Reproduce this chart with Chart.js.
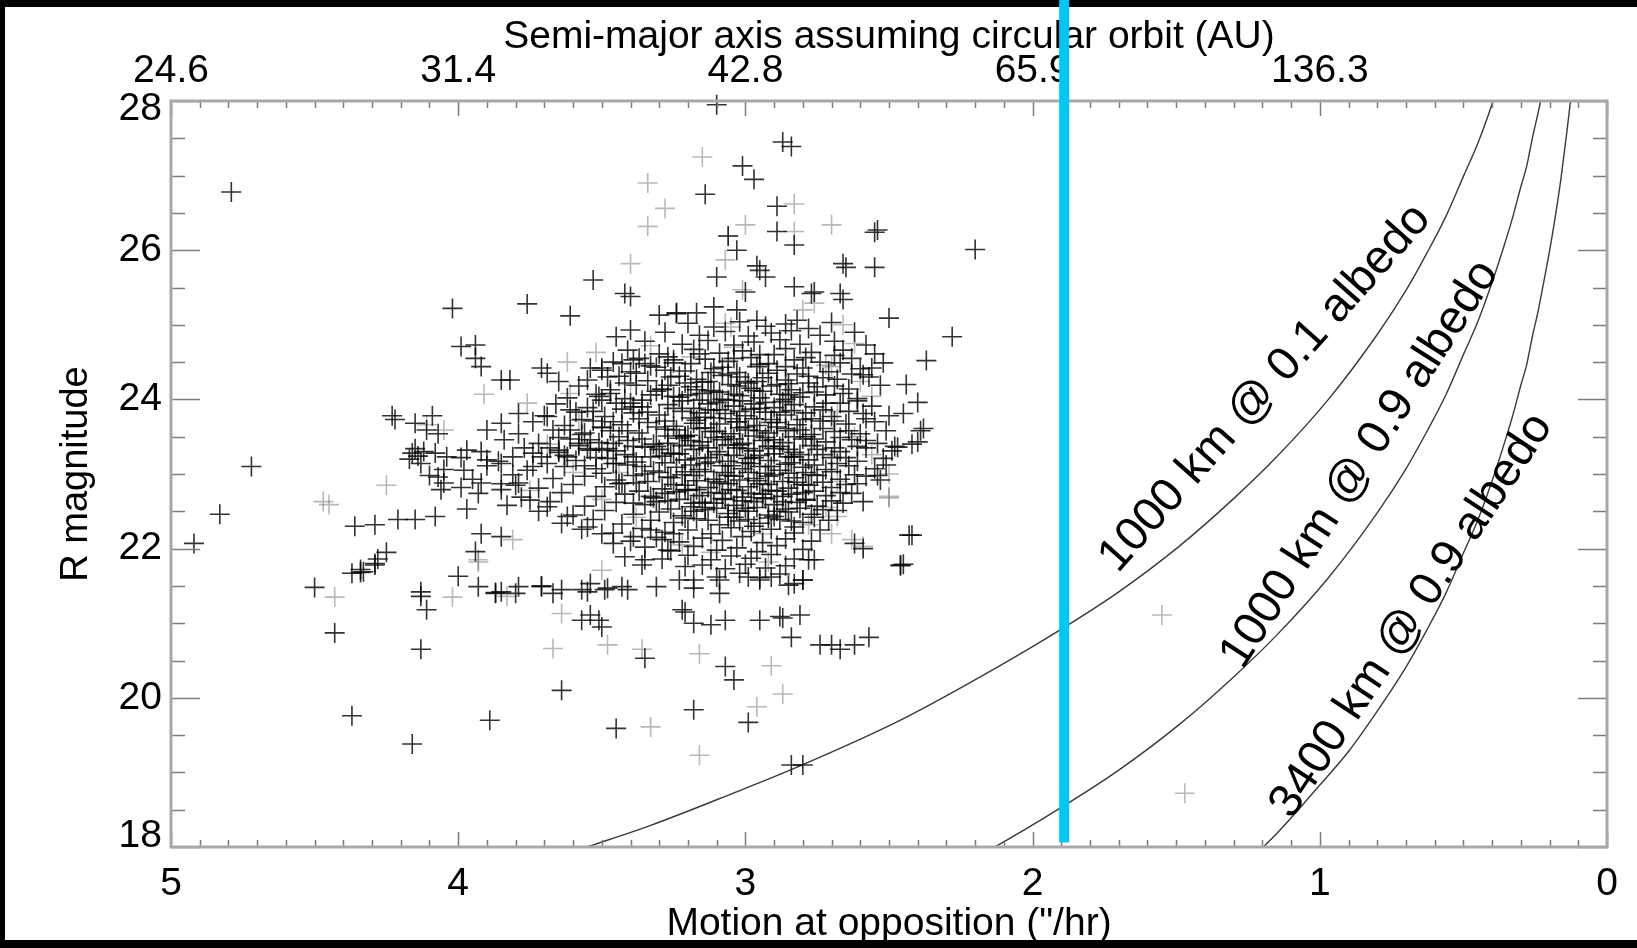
<!DOCTYPE html>
<html>
<head>
<meta charset="utf-8">
<title>R magnitude vs motion at opposition</title>
<script src="https://cdn.jsdelivr.net/npm/chart.js@4.4.1/dist/chart.umd.min.js"></script>
<style>
  html, body { margin: 0; padding: 0; background: #fff; }
  canvas { display: block; }
</style>
</head>
<body>
<canvas id="plot" width="1637" height="948"></canvas>
<script>
// top axis: semi-major axis (AU) written at the motion ticks
const motionTicks = [5, 4, 3, 2, 1, 0];
const semiMajorTicks = ['24.6', '31.4', '42.8', '65.9', '136.3', ''];

// objects: [motion ("/hr), R mag]
const sparseBlack = [
  [4.79,26.78],[3.10,27.95],[2.87,27.45],[2.84,27.39],[3.01,27.13],[2.97,26.95],[3.14,26.75],[2.89,26.59],
  [3.06,26.19],[2.89,26.25],[2.83,26.07],[2.54,26.27],[2.55,26.24],[2.20,26.01],[3.03,26.00],[2.96,25.79],
  [3.10,25.64],[2.93,25.64],[2.66,25.82],[2.65,25.77],[2.55,25.77],[2.83,25.51],[2.77,25.42],[2.67,25.42],
  [2.66,25.34],[2.50,25.09],[2.28,24.84],[3.11,25.24],[3.17,25.16],[3.24,25.16],[3.03,25.20],[2.96,25.06],
  [2.82,25.06],[2.95,25.73],[2.76,25.44],[3.00,25.44],
  [3.53,25.60],[3.42,25.42],[3.40,25.38],[4.02,25.22],[3.76,25.28],[3.61,25.12],[3.45,24.84],[3.40,24.93],
  [3.99,24.71],[3.94,24.73],[3.30,25.13],[3.24,25.15],
  [3.94,24.55],[3.92,24.44],[3.85,24.26],[3.82,24.26],[3.71,24.42],[3.69,24.35],[3.65,24.24],[3.54,24.42],
  [3.50,24.39],[3.48,24.30],[3.51,24.04],[3.43,24.48],[3.39,24.53],[3.36,23.99],[3.39,23.90],[4.22,23.73],
  [4.23,23.78],[4.15,23.68],[4.09,23.78],[4.07,23.54],
  [4.16,23.28],[4.13,23.14],[4.15,23.34],[4.17,23.20],[4.14,23.24],[4.12,23.30],[4.07,22.96],[4.06,22.79],
  [4.05,22.88],[4.11,23.59],[4.08,23.28],[4.04,23.23],
  [3.97,23.32],[3.90,23.19],[3.85,23.14],[3.81,23.23],[3.74,23.28],[3.98,23.05],[3.92,22.88],[3.85,22.79],
  [3.79,22.88],[3.80,22.85],[3.75,22.65],[3.69,22.56],[3.62,22.43],[3.55,22.29],[3.50,22.20],[3.74,23.10],
  [3.69,23.14],[3.65,23.32],[3.62,23.23],[3.58,23.41],[3.56,23.55],[3.50,23.63],[3.54,23.32],[3.69,23.77],
  [3.61,23.86],[3.79,23.81],[3.85,23.68],[3.90,23.59],
  [4.36,22.30],[4.29,22.32],[4.21,22.39],[4.15,22.39],[4.08,22.43],[3.97,22.53],[3.94,21.96],[3.92,22.20],
  [3.85,22.16],[4.25,21.95],[4.29,21.80],[4.33,21.69],[4.37,21.67],[4.34,21.72],[4.28,21.86],
  [4.92,22.07],[4.83,22.46],[4.72,23.10],[4.50,21.48],[4.43,20.87],[4.34,21.68],[4.29,21.78],[4.37,19.76],
  [4.16,19.38],[4.13,20.65],[4.13,21.36],[4.11,21.18],[4.00,21.63],[3.93,21.49],[3.87,21.41],[3.89,19.70],
  [3.64,20.10],[4.13,21.42],
  [3.45,19.59],[3.18,19.84],[3.07,20.42],[3.04,20.24],[2.99,19.67],[2.84,20.81],[2.74,20.71],[2.70,20.71],
  [2.67,20.65],[2.57,20.81],[2.95,21.04],[2.87,21.07],[3.07,21.04],[3.12,20.98],[3.18,21.00],[3.22,21.18],
  [3.21,21.15],[3.54,21.11],[3.51,21.04],[3.50,20.95],[3.57,21.04],[3.67,21.40],[3.71,21.50],[3.80,21.40],
  [3.87,21.40],[3.55,21.42],[3.49,21.45],[3.41,21.45],[3.31,21.49],[3.23,21.58],[3.18,21.47],[3.36,21.78],
  [3.09,21.58],[3.09,21.40],[2.99,21.62],[2.95,21.58],[2.91,21.62],[2.85,21.51],[2.80,21.58],[2.46,21.78],
  [2.84,19.10],[2.80,19.10],[3.35,20.53],
  [2.37,24.52],[2.39,23.58],[2.42,23.40],[2.47,23.36],[2.43,22.18],[2.46,21.77],[2.62,20.71],[2.81,21.11],
  [2.88,21.09],[2.56,24.42],[2.59,24.33],[2.45,23.81],[2.38,23.61],[2.40,23.43],[2.48,23.37],[2.53,22.92],
  [2.59,22.63],[2.42,22.18],[2.45,21.79],[2.78,21.85],[2.76,21.85],[2.83,21.53],[2.80,21.58],[2.44,24.20],
  [2.40,23.96],[2.51,23.12],[2.54,22.98],[2.59,22.00],[2.62,22.07],
  [3.43,22.88],[3.39,22.61],[3.33,22.70],[3.27,22.96],[3.21,22.79],[3.18,22.61],[3.39,22.16],[3.33,22.25],
  [3.29,22.12],[3.25,22.20],[3.27,21.98],[3.46,22.07],[3.42,21.89],[3.35,21.85],[3.21,21.76],[3.18,21.58],
  [3.54,21.53],[3.48,21.47],[3.43,21.49],[3.71,21.49],[3.64,21.45],[3.57,21.45],[3.85,21.42],[3.79,21.49],
  [3.50,23.32],[3.46,23.41],[3.45,23.14],[3.39,23.23],[3.31,23.37],[3.27,23.41],[3.21,23.50],[3.18,23.68],
  [3.29,24.13],[3.25,24.04],[3.21,24.22],[3.17,24.13],[3.35,24.48],[3.28,24.39],[3.25,24.53]
];

// main clump, too dense to read one by one: estimated row by row
const coreBlack = [
  [3.20,25.02],[3.11,24.97],[3.02,25.04],[2.93,24.98],[2.86,25.01],[2.78,24.95],[2.70,25.03],
  [3.28,24.90],[3.16,24.86],[3.07,24.91],[2.99,24.85],[2.91,24.89],[2.84,24.92],[2.74,24.86],[2.62,24.90],
  [3.35,24.78],[3.22,24.74],[3.13,24.79],[3.04,24.73],[2.97,24.77],[2.88,24.80],[2.81,24.74],[2.69,24.78],[2.58,24.73],
  [3.41,24.66],[3.30,24.61],[3.18,24.67],[3.09,24.62],[3.01,24.65],[2.95,24.60],[2.86,24.68],[2.77,24.63],[2.66,24.66],[2.55,24.61],
  [3.46,24.50],[3.37,24.55],[3.25,24.49],[3.14,24.54],[3.06,24.51],[2.98,24.56],[2.92,24.48],[2.83,24.53],[2.74,24.50],[2.63,24.55],[2.52,24.49],
  [3.50,24.42],[3.40,24.37],[3.31,24.43],[3.21,24.38],[3.11,24.41],[3.03,24.36],[2.96,24.44],[2.89,24.39],[2.80,24.42],[2.71,24.37],[2.60,24.41],
  [3.55,24.26],[3.44,24.31],[3.34,24.25],[3.26,24.30],[3.17,24.27],[3.08,24.32],[3.00,24.24],[2.94,24.29],[2.86,24.26],[2.78,24.31],[2.68,24.27],[2.57,24.30],
  [3.58,24.18],[3.47,24.13],[3.38,24.19],[3.29,24.14],[3.19,24.17],[3.12,24.12],[3.05,24.20],[2.98,24.15],[2.91,24.18],[2.84,24.13],[2.75,24.17],[2.64,24.14],[2.53,24.19],
  [3.62,24.02],[3.52,24.07],[3.42,24.01],[3.33,24.06],[3.23,24.03],[3.15,24.08],[3.08,24.00],[3.02,24.05],[2.95,24.02],[2.88,24.07],[2.81,24.03],[2.72,24.06],[2.61,24.01],
  [3.66,23.94],[3.55,23.89],[3.45,23.95],[3.36,23.90],[3.27,23.93],[3.18,23.88],[3.10,23.96],[3.04,23.91],[2.97,23.94],[2.90,23.89],[2.83,23.93],[2.76,23.90],[2.67,23.95],[2.56,23.91],
  [3.70,23.78],[3.59,23.83],[3.49,23.77],[3.39,23.82],[3.30,23.79],[3.22,23.84],[3.14,23.76],[3.07,23.81],[3.00,23.78],[2.93,23.83],[2.86,23.79],[2.79,23.82],[2.70,23.77],[2.59,23.81],[2.50,23.78],
  [3.74,23.70],[3.63,23.65],[3.53,23.71],[3.43,23.66],[3.34,23.69],[3.25,23.64],[3.17,23.72],[3.09,23.67],[3.03,23.70],[2.96,23.65],[2.89,23.69],[2.82,23.66],[2.74,23.71],[2.65,23.67],[2.55,23.70],
  [3.79,23.54],[3.67,23.59],[3.57,23.53],[3.47,23.58],[3.37,23.55],[3.28,23.60],[3.20,23.52],[3.12,23.57],[3.05,23.54],[2.99,23.59],[2.92,23.55],[2.85,23.58],[2.77,23.53],[2.69,23.57],[2.60,23.54],[2.51,23.58],
  [3.84,23.46],[3.72,23.41],[3.61,23.47],[3.51,23.42],[3.41,23.45],[3.32,23.40],[3.23,23.48],[3.15,23.43],[3.08,23.46],[3.01,23.41],[2.94,23.45],[2.87,23.42],[2.80,23.47],[2.72,23.43],[2.63,23.46],[2.54,23.41],
  [3.92,23.30],[3.77,23.35],[3.65,23.29],[3.55,23.34],[3.45,23.31],[3.35,23.36],[3.26,23.28],[3.18,23.33],[3.10,23.30],[3.03,23.35],[2.97,23.31],[2.90,23.34],[2.83,23.29],[2.75,23.33],[2.67,23.30],[2.58,23.35],[2.49,23.31],
  [3.99,23.22],[3.86,23.17],[3.71,23.23],[3.59,23.18],[3.48,23.21],[3.38,23.16],[3.29,23.24],[3.21,23.19],[3.13,23.22],[3.06,23.17],[2.99,23.21],[2.92,23.18],[2.85,23.23],[2.78,23.19],[2.70,23.22],[2.61,23.17],[2.52,23.21],
  [4.05,23.06],[3.90,23.11],[3.76,23.05],[3.63,23.10],[3.52,23.07],[3.41,23.12],[3.32,23.04],[3.24,23.09],[3.16,23.06],[3.08,23.11],[3.01,23.07],[2.95,23.10],[2.88,23.05],[2.80,23.09],[2.72,23.06],[2.64,23.11],[2.55,23.07],
  [4.10,22.98],[3.95,22.93],[3.81,22.99],[3.67,22.94],[3.56,22.97],[3.45,22.92],[3.35,23.00],[3.26,22.95],[3.18,22.98],[3.11,22.93],[3.04,22.97],[2.97,22.94],[2.90,22.99],[2.83,22.95],[2.75,22.98],[2.67,22.93],[2.58,22.97],
  [3.99,22.82],[3.85,22.87],[3.72,22.81],[3.60,22.86],[3.49,22.83],[3.38,22.88],[3.29,22.80],[3.21,22.85],[3.13,22.82],[3.06,22.87],[2.99,22.83],[2.92,22.86],[2.85,22.81],[2.78,22.85],[2.70,22.82],[2.61,22.87],
  [3.93,22.74],[3.78,22.69],[3.64,22.75],[3.52,22.70],[3.42,22.73],[3.32,22.68],[3.24,22.76],[3.16,22.71],[3.08,22.74],[3.01,22.69],[2.94,22.73],[2.87,22.70],[2.80,22.75],[2.72,22.71],[2.63,22.74],
  [3.83,22.58],[3.68,22.63],[3.56,22.57],[3.45,22.62],[3.35,22.59],[3.27,22.64],[3.19,22.56],[3.11,22.61],[3.04,22.58],[2.97,22.63],[2.90,22.59],[2.82,22.62],[2.75,22.57],[2.66,22.61],
  [3.72,22.50],[3.60,22.45],[3.49,22.51],[3.39,22.46],[3.30,22.49],[3.22,22.44],[3.14,22.52],[3.06,22.47],[2.99,22.50],[2.92,22.45],[2.85,22.49],[2.77,22.46],[2.68,22.51],
  [3.64,22.34],[3.53,22.39],[3.43,22.33],[3.33,22.38],[3.25,22.35],[3.17,22.40],[3.09,22.32],[3.02,22.37],[2.95,22.34],[2.88,22.39],[2.80,22.35],[2.71,22.38],
  [3.57,22.26],[3.46,22.21],[3.36,22.27],[3.28,22.22],[3.20,22.25],[3.12,22.20],[3.05,22.28],[2.98,22.23],[2.91,22.26],[2.83,22.21],[2.74,22.25],
  [3.40,22.10],[3.31,22.15],[3.23,22.09],[3.15,22.14],[3.08,22.11],[3.01,22.16],[2.94,22.08],[2.86,22.13],[2.77,22.10],
  [3.35,22.02],[3.26,21.97],[3.18,22.03],[3.10,21.98],[3.03,22.01],[2.96,21.96],[2.89,22.04],[2.80,21.99],
  [3.29,21.86],[3.20,21.91],[3.12,21.85],[3.05,21.90],[2.98,21.87],[2.91,21.92],[2.83,21.86],
  [3.15,21.78],[3.07,21.73],[3.00,21.79],[2.93,21.74],[2.86,21.77],
  [3.10,21.62],[3.02,21.67],[2.95,21.61],[2.88,21.66]
];

// darkest part of the clump
const denseBlack = [
  [3.06,24.34],[2.99,24.22],[2.92,24.35],[2.85,24.21],[3.13,24.24],
  [3.09,24.10],[3.01,23.98],[2.94,24.11],[2.87,23.97],[2.80,24.09],[3.16,23.99],
  [3.12,23.86],[3.05,23.74],[2.98,23.87],[2.91,23.73],[2.84,23.85],[2.77,23.74],[3.19,23.75],
  [3.14,23.62],[3.07,23.50],[3.00,23.63],[2.93,23.49],[2.86,23.61],[2.79,23.50],[3.21,23.51],
  [3.16,23.38],[3.09,23.26],[3.02,23.39],[2.95,23.25],[2.88,23.37],[2.81,23.26],[3.23,23.27],
  [3.14,23.14],[3.07,23.02],[3.00,23.15],[2.93,23.01],[2.86,23.13],[2.79,23.02],[3.21,23.03],
  [3.10,22.90],[3.03,22.78],[2.96,22.91],[2.89,22.77],[2.82,22.89],[3.17,22.79],
  [3.07,22.66],[3.00,22.54],[2.93,22.67],[2.86,22.53],[2.79,22.65],[3.14,22.55],
  [3.04,22.42],[2.97,22.30],[2.90,22.43],[2.83,22.29]
];

// more of the clump, filling the gaps between the rows above
const fillBlack = [
  [3.27,24.57],[3.16,24.61],[3.04,24.55],[2.90,24.60],[2.79,24.56],[2.69,24.59],
  [3.33,24.45],[3.19,24.48],[3.08,24.43],[2.95,24.47],[2.86,24.44],[2.67,24.49],
  [3.38,24.35],[3.23,24.31],[3.12,24.36],[3.02,24.30],[2.82,24.34],[2.73,24.29],[2.63,24.34],
  [3.42,24.22],[3.27,24.19],[3.15,24.23],[3.03,24.18],[2.96,24.24],[2.89,24.20],[2.78,24.22],[2.69,24.18],
  [3.47,24.08],[3.31,24.11],[3.20,24.06],[3.11,24.10],[3.04,24.07],[2.97,24.12],[2.85,24.06],[2.76,24.10],[2.66,24.08],
  [3.50,23.99],[3.40,23.95],[3.22,23.98],[3.13,23.94],[3.06,23.99],[2.93,23.96],[2.86,24.00],[2.72,23.95],[2.61,23.98],
  [3.53,23.84],[3.43,23.87],[3.34,23.83],[3.25,23.88],[3.16,23.82],[3.09,23.86],[3.02,23.84],[2.95,23.88],[2.88,23.83],[2.73,23.86],[2.64,23.84],
  [3.57,23.73],[3.46,23.70],[3.37,23.74],[3.28,23.71],[3.11,23.75],[3.03,23.70],[2.97,23.74],[2.91,23.69],[2.80,23.73],[2.69,23.71],[2.58,23.74],
  [3.61,23.59],[3.50,23.62],[3.41,23.58],[3.31,23.63],[3.24,23.59],[3.16,23.61],[3.10,23.57],[3.02,23.62],[2.95,23.58],[2.89,23.63],[2.81,23.59],[2.73,23.61],[2.64,23.58],
  [3.65,23.49],[3.54,23.46],[3.44,23.50],[3.36,23.47],[3.27,23.51],[3.19,23.45],[3.11,23.49],[3.04,23.47],[2.97,23.51],[2.90,23.46],[2.83,23.50],[2.76,23.47],[2.67,23.49],[2.58,23.45],
  [3.68,23.35],[3.58,23.38],[3.48,23.34],[3.39,23.37],[3.30,23.33],[3.22,23.38],[3.13,23.35],[3.06,23.39],[2.99,23.34],[2.92,23.37],[2.85,23.33],[2.77,23.38],[2.69,23.35],[2.61,23.37],
  [3.63,23.25],[3.52,23.22],[3.42,23.26],[3.33,23.23],[3.25,23.27],[3.17,23.21],[3.04,23.25],[2.97,23.22],[2.90,23.27],[2.83,23.23],[2.73,23.26],[2.65,23.22],
  [3.56,23.11],[3.46,23.14],[3.36,23.10],[3.28,23.15],[3.19,23.12],[3.12,23.16],[3.05,23.11],[2.98,23.14],[2.91,23.10],[2.84,23.15],[2.76,23.12],[2.68,23.14],
  [3.50,23.01],[3.39,22.98],[3.30,23.02],[3.22,22.99],[3.14,23.03],[3.06,22.98],[2.99,23.02],[2.92,22.97],[2.85,23.01],[2.77,22.99],[2.70,23.03],[2.62,22.99],
  [3.44,22.87],[3.34,22.90],[3.25,22.86],[3.17,22.91],[3.09,22.88],[3.02,22.92],[2.95,22.87],[2.87,22.90],[2.80,22.86],[2.73,22.89],[2.65,22.86],
  [3.37,22.77],[3.28,22.74],[3.20,22.78],[3.12,22.75],[3.05,22.79],[2.98,22.74],[2.91,22.78],[2.84,22.73],[2.76,22.77],[2.67,22.75],
  [3.31,22.63],[3.23,22.66],[3.15,22.62],[3.08,22.67],[3.01,22.64],[2.94,22.68],[2.87,22.63],[2.79,22.66],[2.70,22.64],
  [3.26,22.53],[3.18,22.50],[3.10,22.54],[3.03,22.51],[2.96,22.55],[2.89,22.50],[2.81,22.54],[2.73,22.52],
  [3.21,22.41],[3.13,22.38],[3.06,22.42],[2.99,22.39],[2.92,22.41],[2.84,22.37],[2.76,22.42]
];

// faint (grey) symbols
const sparseGray = [
  [3.15,27.25],[3.28,26.56],[2.83,26.62],[3.00,26.34],[2.83,26.25],[2.70,26.34],[3.07,25.87],[3.01,25.47],
  [2.76,25.29],[3.07,25.02],[2.62,24.75],[3.34,26.90],[3.34,26.32],[3.40,25.82],[3.06,26.19],
  [3.91,24.07],[3.61,24.08],[4.11,23.66],[4.05,23.59],[4.25,22.85],[4.45,22.59],[4.47,22.63],[4.43,21.35],
  [4.02,21.35],[3.93,21.85],[3.93,21.82],[3.81,22.12],[3.67,20.66],[3.48,20.71],[3.36,20.65],[3.33,19.61],
  [3.16,19.23],[3.16,20.59],[2.91,20.43],[2.87,20.05],[2.96,19.88],[3.64,21.13],[3.50,21.71],[3.83,21.36],
  [1.55,21.11],[1.47,18.72],[2.50,22.70],[2.68,22.43],[2.63,22.12],[2.59,22.03],[2.56,24.04],[2.50,22.68],
  [2.70,24.44],[3.05,24.97]
];
const coreGray = [
  [3.33,24.72],[3.19,24.57],[2.60,24.24],[2.68,23.84],[3.58,23.72],[2.62,23.50],[3.69,23.40],[2.56,23.26],
  [3.44,23.02],[2.68,22.90],[3.50,22.66],[2.72,22.55],[3.38,22.42],[2.78,22.32],[3.22,22.05],[2.92,21.82],
  [3.40,24.20],[2.72,24.46],[3.04,24.70],[2.94,22.20],[3.12,21.95],[3.60,23.02],[3.75,22.78],[2.80,25.20],
  [2.66,25.00],[3.52,24.63],[3.62,24.50],[3.76,23.95],[2.50,23.00],[2.70,22.20]
];

// model curves
const curve1Motion = [3.70, 3.59, 3.33, 3.05, 2.82, 2.46, 2.15, 1.90, 1.70, 1.49, 1.30, 1.15, 0.97, 0.80, 0.70, 0.63, 0.56, 0.50, 0.45, 0.40, 0.37];
const curve1Mag    = [17.80, 17.95, 18.29, 18.71, 19.07, 19.70, 20.35, 20.92, 21.42, 22.03, 22.67, 23.23, 24.00, 24.87, 25.46, 25.94, 26.46, 26.99, 27.43, 27.96, 28.32];
const curve2Motion = [2.25, 2.15, 1.90, 1.70, 1.49, 1.30, 1.15, 0.97, 0.80, 0.70, 0.63, 0.56, 0.50, 0.45, 0.40, 0.36, 0.33, 0.30, 0.28, 0.26, 0.24, 0.23, 0.22];
const curve2Mag    = [17.76, 17.96, 18.53, 19.03, 19.64, 20.28, 20.84, 21.61, 22.48, 23.07, 23.55, 24.07, 24.60, 25.04, 25.57, 26.04, 26.42, 26.85, 27.12, 27.50, 27.84, 28.02, 28.24];
const curve3Motion = [1.30, 1.15, 1.00, 0.90, 0.80, 0.70, 0.63, 0.56, 0.50, 0.45, 0.40, 0.36, 0.33, 0.30, 0.28, 0.26, 0.24, 0.22, 0.20, 0.18, 0.16, 0.14, 0.127, 0.115];
const curve3Mag    = [17.62, 18.18, 18.83, 19.28, 19.82, 20.41, 20.89, 21.41, 21.94, 22.38, 22.91, 23.38, 23.76, 24.19, 24.46, 24.84, 25.18, 25.58, 25.99, 26.45, 26.97, 27.58, 28.00, 28.44];
const curveNames   = ['1000 km @ 0.1 albedo', '1000 km @ 0.9 albedo', '3400 km @ 0.9 albedo'];

const cyanMotion = 1.89;

// label placement (motion, mag, angle in degrees)
const notePlaces = [[1.19, 24.15, 48.4], [0.86, 23.13, 57.2], [0.68, 21.10, 56.5]];

const FONT = 'Liberation Sans, Arial, Helvetica, sans-serif';
Chart.defaults.font.family = FONT;
Chart.defaults.color = '#000';

const toXY = (arr) => arr.map(([x, y]) => ({ x, y }));
const zip = (xs, ys) => xs.map((x, i) => ({ x, y: ys[i] }));
const isWhole = (v, step) => Math.abs(v / step - Math.round(v / step)) < 1e-6;

const decor = {
  id: 'decor',
  beforeDraw(chart) {
    const ctx = chart.ctx;
    ctx.save();
    ctx.fillStyle = '#fff';
    ctx.fillRect(0, 0, chart.width, chart.height);
    ctx.restore();
  },
  afterDraw(chart) {
    const { ctx, chartArea: a, scales } = chart;
    const ys = scales.y;
    ctx.save();

    // inward ticks, mirrored on all four sides
    ctx.strokeStyle = '#7d7d7d';
    ctx.lineWidth = 1.5;
    ctx.beginPath();
    scales.x.ticks.forEach((t) => {
      const px = Math.round(scales.x.getPixelForValue(t.value)) + 0.5;
      const len = isWhole(t.value, 1) ? 15 : 7;
      ctx.moveTo(px, a.bottom); ctx.lineTo(px, a.bottom - len);
      ctx.moveTo(px, a.top); ctx.lineTo(px, a.top + len);
    });
    ys.ticks.forEach((t) => {
      const py = Math.round(ys.getPixelForValue(t.value)) + 0.5;
      const len = isWhole(t.value, 2) ? 29 : 14;
      ctx.moveTo(a.left, py); ctx.lineTo(a.left + len, py);
      ctx.moveTo(a.right, py); ctx.lineTo(a.right - len, py);
    });
    ctx.stroke();

    ctx.strokeStyle = '#a8a8a8';
    ctx.lineWidth = 3;
    ctx.strokeRect(a.left, a.top, a.right - a.left, a.bottom - a.top);

    // y tick labels; the two end labels sit a little inside the axis range
    ctx.fillStyle = '#000';
    ctx.font = '39px ' + FONT;
    ctx.textAlign = 'right';
    ctx.textBaseline = 'middle';
    ys.ticks.forEach((t) => {
      if (!isWhole(t.value, 2)) return;
      let py = ys.getPixelForValue(t.value);
      if (t.value === ys.max) py += 8;
      if (t.value === ys.min) py -= 11;
      ctx.fillText(String(Math.round(t.value)), a.left - 9, py);
    });

    // curve labels
    ctx.font = '47px ' + FONT;
    ctx.textAlign = 'center';
    curveNames.forEach((name, i) => {
      const [m, mag, ang] = notePlaces[i];
      ctx.save();
      ctx.translate(scales.x.getPixelForValue(m), ys.getPixelForValue(mag));
      ctx.rotate(-ang * Math.PI / 180);
      ctx.fillText(name, 0, 0);
      ctx.restore();
    });

    // black frame of the picture
    ctx.fillStyle = '#000';
    ctx.fillRect(0, 0, chart.width, 7);
    ctx.fillRect(0, 0, 5, chart.height);
    ctx.fillRect(0, chart.height - 8, chart.width, 8);

    // cyan marker line
    const cx = scales.x.getPixelForValue(cyanMotion);
    ctx.strokeStyle = '#00c8f5';
    ctx.lineWidth = 10;
    ctx.beginPath();
    ctx.moveTo(cx, 0);
    ctx.lineTo(cx, ys.getPixelForValue(18.06));
    ctx.stroke();
    ctx.restore();
  }
};

const crossStyle = (color) => ({
  showLine: false,
  pointStyle: 'cross',
  pointRadius: 10,
  pointHoverRadius: 10,
  pointBorderWidth: 1.6,
  pointBorderColor: color,
  pointBackgroundColor: color,
  clip: false
});
const curveStyle = {
  showLine: true,
  pointRadius: 0,
  borderColor: '#3a3a3a',
  borderWidth: 1.4,
  cubicInterpolationMode: 'monotone'
};

const motionTickOpts = (size) => ({
  stepSize: 0.1,
  autoSkip: false,
  maxRotation: 0,
  minRotation: 0,
  font: { size }
});

new Chart(document.getElementById('plot'), {
  type: 'scatter',
  data: {
    datasets: [
      { data: toXY([...sparseBlack, ...coreBlack, ...denseBlack, ...fillBlack]), ...crossStyle('rgba(5,5,5,0.82)') },
      { data: toXY([...sparseGray, ...coreGray]), ...crossStyle('rgba(70,70,70,0.38)') },
      { data: zip(curve1Motion, curve1Mag), ...curveStyle },
      { data: zip(curve2Motion, curve2Mag), ...curveStyle },
      { data: zip(curve3Motion, curve3Mag), ...curveStyle }
    ]
  },
  options: {
    responsive: false,
    animation: false,
    events: [],
    layout: { padding: { left: 0, right: 30, top: 0, bottom: 0 } },
    plugins: { legend: { display: false }, tooltip: { enabled: false } },
    scales: {
      x: {
        type: 'linear',
        position: 'bottom',
        min: 0,
        max: 5,
        reverse: true,
        grid: { display: false, drawTicks: false },
        border: { display: false },
        ticks: {
          ...motionTickOpts(39),
          padding: 14,
          callback: (v) => (isWhole(v, 1) ? String(Math.round(v)) : '')
        },
        title: {
          display: true,
          text: 'Motion at opposition ("/hr)',
          font: { size: 39 },
          padding: { top: 0, bottom: 0 }
        },
        afterFit: (s) => { s.height = 101; }
      },
      x2: {
        type: 'linear',
        position: 'top',
        min: 0,
        max: 5,
        reverse: true,
        grid: { display: false, drawTicks: false },
        border: { display: false },
        ticks: {
          ...motionTickOpts(39),
          padding: 6,
          callback: (v) => {
            const i = motionTicks.findIndex((m) => Math.abs(m - v) < 1e-6);
            return i >= 0 ? semiMajorTicks[i] : '';
          }
        },
        title: {
          display: true,
          text: 'Semi-major axis assuming circular orbit (AU)',
          font: { size: 39 },
          padding: { top: 14, bottom: 0 }
        },
        afterFit: (s) => { s.height = 101; }
      },
      y: {
        type: 'linear',
        position: 'left',
        min: 18,
        max: 28,
        grid: { display: false, drawTicks: false },
        border: { display: false },
        ticks: { stepSize: 0.5, autoSkip: false, display: false },
        title: {
          display: true,
          text: 'R magnitude',
          font: { size: 38 },
          padding: { top: 54, bottom: 0 }
        },
        afterFit: (s) => { s.width = 171; }
      }
    }
  },
  plugins: [decor]
});
</script>
</body>
</html>
